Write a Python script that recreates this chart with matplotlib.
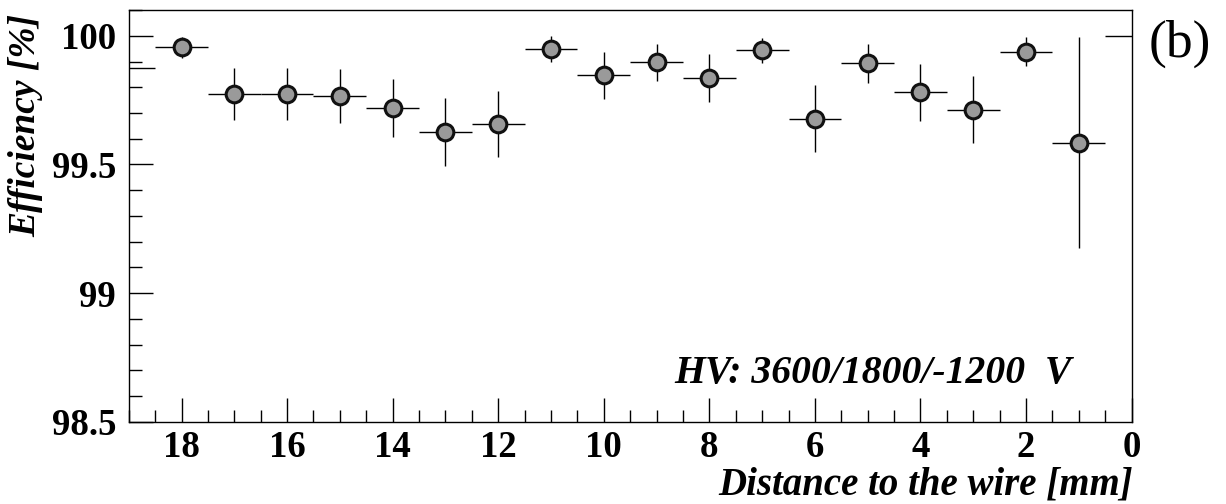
import numpy as np
import matplotlib
matplotlib.use("Agg")
import matplotlib.pyplot as plt
from matplotlib.ticker import MultipleLocator

# bin centres [mm], efficiency [%] and errors
distance = [18, 17, 16, 15, 14, 13, 12, 11, 10, 9, 8, 7, 6, 5, 4, 3, 2, 1]
efficiency = [99.955, 99.774, 99.774, 99.767, 99.72, 99.625, 99.659, 99.948, 99.846,
              99.897, 99.837, 99.943, 99.678, 99.894, 99.78, 99.713, 99.939, 99.584]
eff_err = [0.04, 0.10, 0.10, 0.105, 0.113, 0.132, 0.128, 0.05, 0.09,
           0.073, 0.093, 0.05, 0.13, 0.076, 0.11, 0.13, 0.058, 0.41]
bin_half = 0.5

# half bins at the edges (no marker)
edge_distance = [18.75, 0.25]
edge_efficiency = [99.876, 100.0]
edge_half = 0.25

plt.rcParams['font.family'] = ['Liberation Serif', 'DejaVu Serif']

fig = plt.figure(figsize=(12.26, 5.04), dpi=100)
ax = fig.add_axes([0.105, 0.163, 0.818, 0.817])

ax.errorbar(distance, efficiency, xerr=bin_half, yerr=eff_err, fmt='o',
            color='black', ecolor='black', elinewidth=1.0, capsize=0,
            markersize=12, markerfacecolor='#9a9a9a', markeredgecolor='#111111',
            markeredgewidth=2.2)
ax.errorbar(edge_distance, edge_efficiency, xerr=edge_half, fmt='none',
            ecolor='black', elinewidth=1.0, capsize=0)

ax.set_xlim(19, 0)
ax.set_ylim(98.5, 100.1)

ax.xaxis.set_major_locator(MultipleLocator(2))
ax.xaxis.set_minor_locator(MultipleLocator(0.5))
ax.yaxis.set_minor_locator(MultipleLocator(0.1))
ax.set_yticks([98.5, 99, 99.5, 100])
ax.set_yticklabels(['98.5', '99', '99.5', '100'])

ax.tick_params(which='both', direction='in', top=False, right=False, width=1.0)
ax.tick_params(which='major', length=17)
ax.tick_params(which='minor', length=9)
ax.tick_params(axis='x', which='major', labelsize=26.5, pad=6)
ax.tick_params(axis='y', which='major', labelsize=26.5, pad=9)
for lab in ax.get_xticklabels() + ax.get_yticklabels():
    lab.set_fontweight('bold')

for sp in ax.spines.values():
    sp.set_linewidth(1.0)

ax.text(0.940, 0.095, 'HV: 3600/1800/-1200  V', transform=ax.transAxes,
        ha='right', va='baseline', fontsize=28.5, fontweight='bold', fontstyle='italic')

fig.text(0.924, 0.018, 'Distance to the wire [mm]', ha='right', va='baseline',
         fontsize=28, fontweight='bold', fontstyle='italic')
fig.text(0.021, 1 - 14 / 504, 'Efficiency [%]', ha='center', va='top', rotation=90,
         fontsize=27, fontweight='bold', fontstyle='italic')
fig.text(0.937, 1 - 20 / 504, '(b)', ha='left', va='top', fontsize=38.5)

fig.savefig('out.png', dpi=100)
